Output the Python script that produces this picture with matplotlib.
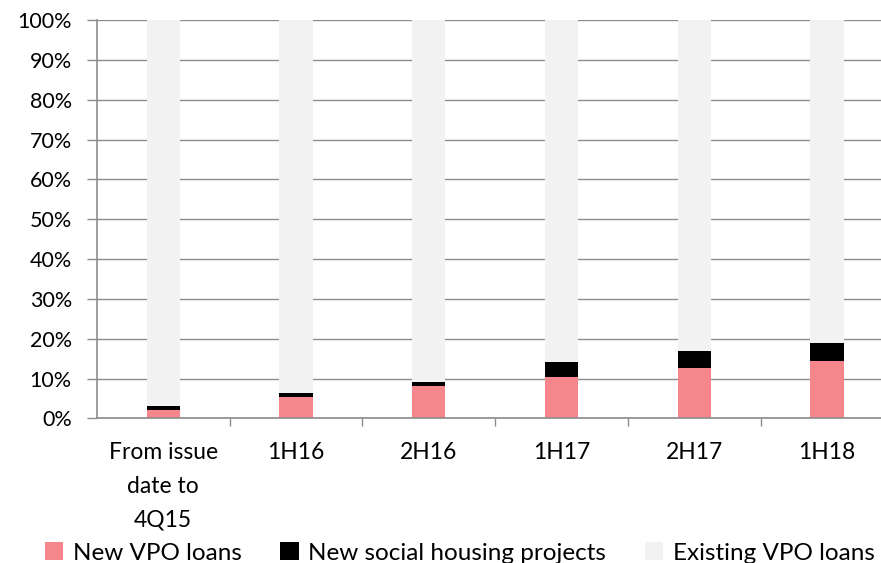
import matplotlib.pyplot as plt
from matplotlib.ticker import FixedLocator, PercentFormatter
from matplotlib.patches import Patch
import numpy as np

# data (percent of total)
categories = ['From issue\ndate to\n4Q15', '1H16', '2H16', '1H17', '2H17', '1H18']
new_vpo = [2.0, 5.3, 8.0, 10.4, 12.7, 14.5]
new_social = [1.0, 1.0, 1.0, 3.7, 4.2, 4.4]
existing_vpo = [100 - a - b for a, b in zip(new_vpo, new_social)]

labels = ['New VPO loans', 'New social housing projects', 'Existing VPO loans']
colors = ['#F4868C', '#000000', '#F2F2F2']

plt.rcParams['font.family'] = ['Lato', 'DejaVu Sans']

fig = plt.figure(figsize=(8.81, 5.63), dpi=100)
ax = fig.add_axes([0.110, 0.257, 0.904, 0.707])

x = np.arange(len(categories))
w = 0.25
bottom = np.zeros(len(x))
for vals, c in zip([new_vpo, new_social, existing_vpo], colors):
    ax.bar(x, vals, w, bottom=bottom, color=c, zorder=3)
    bottom += np.array(vals)

ax.set_xlim(-0.5, len(x) - 0.5)
ax.set_ylim(0, 100)
ax.set_yticks(np.arange(0, 101, 10))
ax.yaxis.set_major_formatter(PercentFormatter(decimals=0))
ax.grid(axis='y', color='#8C8C8C', linewidth=1.0, zorder=0)

ax.set_xticks(x)
ax.set_xticklabels(categories, linespacing=1.75, va='top')
ax.xaxis.set_minor_locator(FixedLocator(np.arange(0.5, len(x) - 0.5, 1)))
ax.tick_params(axis='x', which='major', length=0, pad=17, labelsize=16.5, colors='#000000')
ax.tick_params(axis='x', which='minor', length=6, width=1, color='#8C8C8C', direction='out')
ax.tick_params(axis='y', length=7, width=1, color='#8C8C8C', labelsize=15.5, pad=11)

for s in ['top', 'right']:
    ax.spines[s].set_visible(False)
for s in ['left', 'bottom']:
    ax.spines[s].set_color('#8C8C8C')
    ax.spines[s].set_linewidth(1.2)
ax.spines['left'].set_zorder(4)
ax.spines['bottom'].set_zorder(4)

handles = [Patch(facecolor=c, edgecolor='none') for c in colors]
fig.legend(handles, labels, ncol=3, loc='lower center', bbox_to_anchor=(0.522, -0.04),
           frameon=False, fontsize=17.5, handlelength=0.75, handleheight=0.75,
           handletextpad=0.4, columnspacing=1.6)

fig.savefig('out.png', dpi=100)
